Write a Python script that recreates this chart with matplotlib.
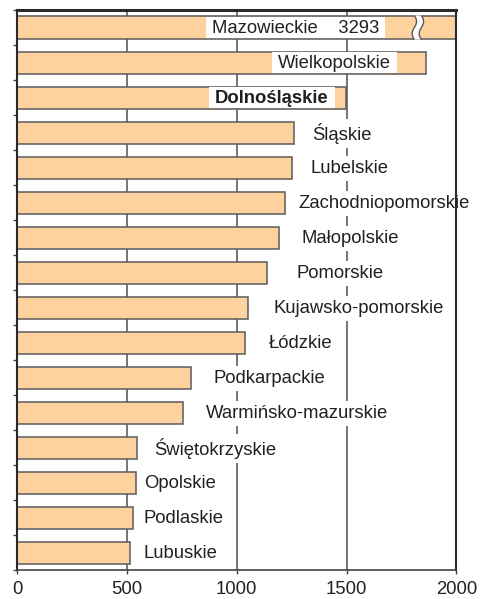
import matplotlib
matplotlib.use('Agg')
import matplotlib.pyplot as plt
import numpy as np
from matplotlib.patches import Rectangle, Polygon

regions = ["Mazowieckie", "Wielkopolskie", "Dolnośląskie", "Śląskie", "Lubelskie",
           "Zachodniopomorskie", "Małopolskie", "Pomorskie", "Kujawsko-pomorskie",
           "Łódzkie", "Podkarpackie", "Warmińsko-mazurskie", "Świętokrzyskie",
           "Opolskie", "Podlaskie", "Lubuskie"]
values = [3293, 1863, 1497, 1259, 1250, 1218, 1192, 1136, 1049, 1039,
          791, 753, 544, 542, 528, 515]
x_ticks = [0, 500, 1000, 1500, 2000]
# left edge of each label text (data units)
label_x = [887, 1188, 901, 1342, 1338, 1279, 1297, 1274, 1165, 1147,
           892, 860, 623, 577, 577, 573]

TXT = '#231F20'
BAR = '#FDD29E'
EDGE = '#5a5a5a'
FS = 13.3
XMAX = 2000
BREAK_AT = 1825

plt.rcParams['font.family'] = ['Liberation Sans', 'DejaVu Sans']
fig = plt.figure(figsize=(4.8, 5.99), dpi=100)
ax = fig.add_axes([0.0360, 0.04758, 0.9146, 0.93573])

n = len(regions)
y = np.arange(n)
bar_h = 0.63

ax.set_xlim(0, XMAX)
ax.set_ylim(n - 0.5, -0.5)

# grid lines
for gx in x_ticks[1:-1]:
    ax.axvline(gx, color='#505050', lw=1.1, zorder=1)

ax.barh(y, values, height=bar_h, color=BAR, edgecolor=EDGE, linewidth=1.1, zorder=2)

# break mark on the clipped bar
for i, v in enumerate(values):
    if v > XMAX:
        t = np.linspace(0, 1, 40)
        yy = i - bar_h / 2 - 0.03 + t * (bar_h + 0.06)
        wave = 10 * np.sin(2 * np.pi * t)
        lx = BREAK_AT - 16 + wave
        rx = BREAK_AT + 16 + wave
        poly = np.vstack([np.column_stack([lx, yy]), np.column_stack([rx[::-1], yy[::-1]])])
        ax.add_patch(Polygon(poly, closed=True, fc='white', ec='none', zorder=3))
        ax.plot(lx, yy, color=EDGE, lw=1.0, zorder=3.1, solid_capstyle='butt')
        ax.plot(rx, yy, color=EDGE, lw=1.0, zorder=3.1, solid_capstyle='butt')

# labels
inside = []
for i, (name, v, lx) in enumerate(zip(regions, values, label_x)):
    txt = name
    weight = 'normal'
    if v > XMAX:
        txt = f"{name}    {v}"
    if name == "Dolnośląskie":
        weight = 'bold'
    if lx < v:
        t = ax.text(lx, i + 0.02, txt, ha='left', va='center', fontsize=FS,
                    color=TXT, fontweight=weight, zorder=5)
        inside.append((t, i))
    else:
        ax.text(lx, i + 0.02, txt, ha='left', va='center', fontsize=FS, color=TXT,
                fontweight=weight, zorder=4,
                bbox=dict(boxstyle='square,pad=0.2', fc='white', ec='none'))

fig.canvas.draw()
renderer = fig.canvas.get_renderer()
inv = ax.transData.inverted()
for t, i in inside:
    bb = t.get_window_extent(renderer)
    x0 = inv.transform((bb.x0 - 6, 0))[0]
    x1 = inv.transform((bb.x1 + 6, 0))[0]
    ax.add_patch(Rectangle((x0, i - bar_h / 2 + 0.02), x1 - x0, bar_h - 0.04,
                           fc='white', ec='none', zorder=4.5))

# axes styling
ax.set_xticks(x_ticks)
ax.set_xticklabels([str(v) for v in x_ticks])
ax.set_yticks(np.arange(-0.5, n, 1))
ax.set_yticklabels([])
ax.tick_params(axis='x', direction='out', length=3, width=1, color='#444444',
               labelsize=FS, labelcolor=TXT, pad=4.5)
ax.tick_params(axis='y', direction='out', length=3, width=1, color='#444444')
ax.spines['top'].set_linewidth(2.2)
ax.spines['top'].set_color('#2a2a2a')
ax.spines['left'].set_linewidth(1.5)
ax.spines['left'].set_color('#2a2a2a')
ax.spines['right'].set_linewidth(1.5)
ax.spines['right'].set_color('#2a2a2a')
ax.spines['bottom'].set_linewidth(1.2)
ax.spines['bottom'].set_color('#444444')
for s in ax.spines.values():
    s.set_zorder(6)

fig.savefig('out.png', dpi=100)
